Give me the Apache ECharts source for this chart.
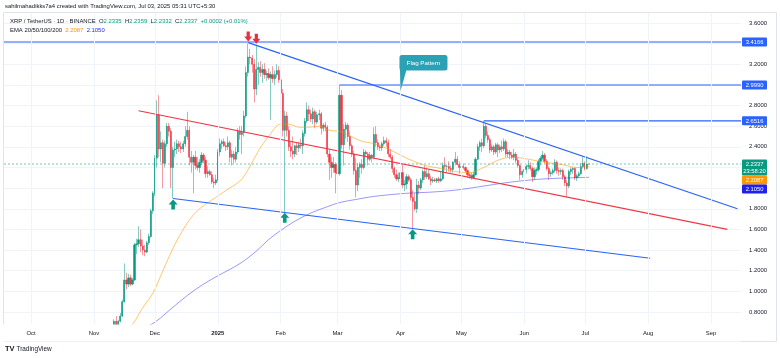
<!DOCTYPE html>
<html>
<head>
<meta charset="utf-8">
<script src="https://cdn.jsdelivr.net/npm/echarts@6/dist/echarts.min.js"></script>
<style>
html,body{margin:0;padding:0;background:#ffffff;}
#chart{width:780px;height:358px;}
</style>
</head>
<body>
<div id="chart"></div>
<script>
// ---------- DATA (daily candles: [open, high, low, close]) ----------
const nov2024 = [ // from Nov 9
  [0.56,0.60,0.55,0.59],[0.59,0.64,0.58,0.62],[0.62,0.73,0.60,0.71],[0.71,0.76,0.63,0.66],
  [0.66,0.72,0.64,0.71],[0.71,0.79,0.70,0.76],[0.76,0.92,0.75,0.90],[0.90,1.27,0.89,1.11],
  [1.11,1.18,1.02,1.07],[1.07,1.17,1.04,1.13],[1.13,1.16,1.05,1.07],[1.07,1.13,1.06,1.11],
  [1.11,1.47,1.10,1.45],[1.45,1.51,1.36,1.46],[1.46,1.63,1.43,1.50],[1.50,1.60,1.38,1.44],
  [1.44,1.50,1.35,1.40],[1.40,1.45,1.34,1.38],[1.38,1.49,1.37,1.47],[1.47,1.56,1.45,1.53],
  [1.53,1.80,1.52,1.78],[1.78,1.97,1.75,1.95]
];
const dec2024 = [
  [1.95,2.32,1.92,2.29],[2.29,2.85,2.20,2.71],[2.71,2.90,2.30,2.38],[2.38,2.55,2.25,2.44],
  [2.44,2.47,2.00,2.24],[2.24,2.46,2.20,2.43],[2.43,2.63,2.40,2.60],[2.60,2.63,2.50,2.55],
  [2.55,2.58,2.00,2.20],[2.20,2.40,1.90,2.37],[2.37,2.45,2.30,2.38],[2.38,2.47,2.33,2.43],
  [2.43,2.46,2.35,2.40],[2.40,2.45,2.34,2.38],[2.38,2.46,2.35,2.43],[2.43,2.60,2.40,2.50],
  [2.50,2.74,2.47,2.56],[2.56,2.60,2.22,2.30],[2.30,2.36,2.15,2.25],[2.25,2.32,1.95,2.30],
  [2.30,2.36,2.18,2.22],[2.22,2.30,2.17,2.20],[2.20,2.28,2.15,2.25],[2.25,2.35,2.22,2.32],
  [2.32,2.34,2.24,2.27],[2.27,2.30,2.10,2.14],[2.14,2.21,2.10,2.16],[2.16,2.18,2.12,2.13],
  [2.13,2.16,2.04,2.06],[2.06,2.10,2.00,2.05],[2.05,2.13,2.03,2.08]
];
const jan2025 = [
  [2.08,2.38,2.06,2.35],[2.35,2.48,2.31,2.43],[2.43,2.47,2.38,2.45],[2.45,2.48,2.40,2.41],
  [2.41,2.44,2.36,2.40],[2.40,2.50,2.37,2.44],[2.44,2.46,2.25,2.30],[2.30,2.37,2.22,2.33],
  [2.33,2.36,2.24,2.28],[2.28,2.40,2.25,2.35],[2.35,2.58,2.33,2.55],[2.55,2.60,2.47,2.52],
  [2.52,2.60,2.33,2.54],[2.54,2.75,2.50,2.70],[2.70,3.18,2.68,3.12],[3.12,3.40,3.08,3.27],
  [3.27,3.35,3.20,3.26],[3.26,3.29,3.12,3.20],[3.20,3.25,2.83,2.96],[2.96,3.39,2.90,3.15],
  [3.15,3.22,3.00,3.17],[3.17,3.23,3.08,3.12],[3.12,3.20,3.02,3.15],[3.15,3.21,3.06,3.10],
  [3.10,3.14,3.04,3.11],[3.11,3.16,3.05,3.07],[3.07,3.13,2.66,3.10],[3.10,3.18,3.02,3.06],
  [3.06,3.14,3.00,3.10],[3.10,3.20,3.07,3.14],[3.14,3.18,3.02,3.05]
];
const feb2025 = [
  [3.05,3.08,2.90,2.92],[2.92,2.96,2.50,2.56],[2.56,2.75,1.77,2.70],[2.70,2.74,2.50,2.56],
  [2.56,2.60,2.36,2.40],[2.40,2.45,2.30,2.36],[2.36,2.50,2.28,2.33],[2.33,2.42,2.30,2.41],
  [2.41,2.44,2.32,2.39],[2.39,2.45,2.35,2.42],[2.42,2.48,2.38,2.41],[2.41,2.56,2.33,2.53],
  [2.53,2.68,2.50,2.65],[2.65,2.83,2.63,2.76],[2.76,2.80,2.65,2.72],[2.72,2.76,2.64,2.67],
  [2.67,2.78,2.62,2.74],[2.74,2.76,2.58,2.64],[2.64,2.74,2.62,2.71],[2.71,2.76,2.66,2.72],
  [2.72,2.74,2.52,2.58],[2.58,2.63,2.55,2.61],[2.61,2.64,2.55,2.59],[2.59,2.61,2.30,2.33],
  [2.33,2.37,2.08,2.25],[2.25,2.30,2.10,2.20],[2.20,2.30,2.15,2.23],[2.23,2.25,1.95,2.15]
];
const mar2025 = [
  [2.15,2.20,2.10,2.14],[2.14,3.00,2.12,2.90],[2.90,2.95,2.38,2.42],[2.42,2.62,2.22,2.57],
  [2.57,2.64,2.48,2.61],[2.61,2.63,2.45,2.50],[2.50,2.55,2.37,2.41],[2.41,2.43,2.30,2.33],
  [2.33,2.36,2.13,2.17],[2.17,2.29,1.91,2.03],[2.03,2.24,1.97,2.20],[2.20,2.25,2.10,2.23],
  [2.23,2.28,2.14,2.20],[2.20,2.38,2.18,2.35],[2.35,2.37,2.30,2.33],[2.33,2.35,2.22,2.28],
  [2.28,2.35,2.26,2.32],[2.32,2.33,2.25,2.30],[2.30,2.59,2.28,2.52],[2.52,2.60,2.40,2.44],
  [2.44,2.47,2.37,2.40],[2.40,2.42,2.36,2.39],[2.39,2.45,2.36,2.43],[2.43,2.50,2.41,2.46],
  [2.46,2.49,2.40,2.44],[2.44,2.47,2.30,2.33],[2.33,2.38,2.28,2.30],[2.30,2.32,2.15,2.19],
  [2.19,2.21,2.10,2.13],[2.13,2.18,2.07,2.09],[2.09,2.15,2.06,2.10]
];
const apr2025 = [
  [2.10,2.18,2.08,2.15],[2.15,2.23,2.00,2.03],[2.03,2.08,1.97,2.04],[2.04,2.14,1.99,2.11],
  [2.11,2.13,2.06,2.08],[2.08,2.10,1.88,1.91],[1.91,1.98,1.61,1.87],[1.87,1.95,1.78,1.80],
  [1.80,2.09,1.76,2.03],[2.03,2.07,1.94,2.00],[2.00,2.10,1.98,2.08],[2.08,2.18,2.05,2.16],
  [2.16,2.22,2.08,2.11],[2.11,2.20,2.09,2.14],[2.14,2.18,2.08,2.09],[2.09,2.12,2.03,2.07],
  [2.07,2.11,2.05,2.08],[2.08,2.10,2.06,2.07],[2.07,2.10,2.05,2.09],[2.09,2.11,2.05,2.07],
  [2.07,2.16,2.06,2.09],[2.09,2.25,2.08,2.22],[2.22,2.30,2.18,2.21],[2.21,2.23,2.15,2.21],
  [2.21,2.26,2.16,2.19],[2.19,2.22,2.15,2.18],[2.18,2.26,2.15,2.25],[2.25,2.35,2.22,2.28],
  [2.28,2.31,2.22,2.23],[2.23,2.26,2.14,2.20]
];
const may2025 = [
  [2.20,2.24,2.18,2.21],[2.21,2.24,2.18,2.20],[2.20,2.21,2.15,2.17],[2.17,2.18,2.10,2.13],
  [2.13,2.15,2.09,2.12],[2.12,2.15,2.08,2.10],[2.10,2.16,2.09,2.13],[2.13,2.30,2.12,2.28],
  [2.28,2.43,2.27,2.40],[2.40,2.46,2.36,2.44],[2.44,2.48,2.35,2.41],[2.41,2.65,2.39,2.60],
  [2.60,2.63,2.48,2.51],[2.51,2.55,2.44,2.47],[2.47,2.49,2.34,2.37],[2.37,2.43,2.35,2.40],
  [2.40,2.42,2.32,2.35],[2.35,2.44,2.33,2.42],[2.42,2.44,2.30,2.37],[2.37,2.42,2.34,2.40],
  [2.40,2.46,2.35,2.38],[2.38,2.48,2.36,2.45],[2.45,2.47,2.30,2.33],[2.33,2.38,2.30,2.35],
  [2.35,2.37,2.28,2.32],[2.32,2.35,2.28,2.30],[2.30,2.38,2.27,2.33],[2.33,2.35,2.24,2.27],
  [2.27,2.30,2.20,2.22],[2.22,2.23,2.08,2.13],[2.13,2.17,2.10,2.16]
];
const jun2025 = [
  [2.16,2.20,2.12,2.18],[2.18,2.23,2.14,2.21],[2.21,2.27,2.18,2.22],[2.22,2.25,2.17,2.19],
  [2.19,2.21,2.06,2.11],[2.11,2.20,2.08,2.17],[2.17,2.20,2.13,2.18],[2.18,2.28,2.16,2.26],
  [2.26,2.31,2.22,2.29],[2.29,2.36,2.27,2.32],[2.32,2.34,2.24,2.26],[2.26,2.28,2.17,2.19],
  [2.19,2.21,2.08,2.14],[2.14,2.17,2.11,2.15],[2.15,2.19,2.13,2.17],[2.17,2.28,2.15,2.25],
  [2.25,2.27,2.14,2.17],[2.17,2.20,2.12,2.16],[2.16,2.19,2.13,2.17],[2.17,2.19,2.08,2.11],
  [2.11,2.13,2.02,2.05],[2.05,2.08,1.91,2.02],[2.02,2.18,2.00,2.16],[2.16,2.20,2.13,2.18],
  [2.18,2.20,2.14,2.19],[2.19,2.20,2.08,2.10],[2.10,2.14,2.07,2.12],[2.12,2.16,2.10,2.14],
  [2.14,2.24,2.13,2.21],[2.21,2.30,2.19,2.24]
];
const jul2025 = [
  [2.24,2.26,2.17,2.19],[2.19,2.31,2.18,2.2335],[2.2335,2.2359,2.2332,2.2337]
];

// EMA lines: [date, value]
const emaOrange = [
  ['2024-11-15',0.60],['2024-11-20',0.68],['2024-11-25',0.84],['2024-11-30',0.98],
  ['2024-12-05',1.20],['2024-12-10',1.42],['2024-12-15',1.60],['2024-12-20',1.74],
  ['2024-12-25',1.83],['2024-12-31',1.91],['2025-01-06',1.99],['2025-01-12',2.07],
  ['2025-01-16',2.18],['2025-01-21',2.36],['2025-01-26',2.50],['2025-02-01',2.62],
  ['2025-02-05',2.62],['2025-02-10',2.59],['2025-02-15',2.59],['2025-02-20',2.60],
  ['2025-02-25',2.56],['2025-03-02',2.55],['2025-03-06',2.52],['2025-03-12',2.46],
  ['2025-03-19',2.43],['2025-03-27',2.37],['2025-04-04',2.29],['2025-04-13',2.22],
  ['2025-04-21',2.19],['2025-04-28',2.16],['2025-05-05',2.15],['2025-05-12',2.20],
  ['2025-05-19',2.27],['2025-05-26',2.30],['2025-06-03',2.28],['2025-06-11',2.25],
  ['2025-06-19',2.23],['2025-06-27',2.20],['2025-07-03',2.2087]
];
const emaBlue = [
  ['2024-11-25',0.64],['2024-12-01',0.70],['2024-12-09',0.83],['2024-12-17',0.96],
  ['2024-12-25',1.07],['2025-01-01',1.15],['2025-01-12',1.27],['2025-01-20',1.39],
  ['2025-01-26',1.50],['2025-02-01',1.59],['2025-02-08',1.68],['2025-02-16',1.76],
  ['2025-02-24',1.82],['2025-03-02',1.86],['2025-03-10',1.89],['2025-03-19',1.92],
  ['2025-04-04',1.95],['2025-04-15',1.96],['2025-04-28',1.98],['2025-05-12',2.02],
  ['2025-05-26',2.06],['2025-06-11',2.09],['2025-06-25',2.10],['2025-07-03',2.105]
];

// drawn trend lines: [[date, value], [date, value]]
const upperBlueLine = [['2025-01-16',3.41],['2025-09-14',1.80]];
const lowerBlueLine = [['2024-12-10',1.90],['2025-08-02',1.32]];
const redLine       = [['2024-11-23',2.75],['2025-09-09',1.60]];
// horizontal levels: [start date, value]
const levels = [['2024-09-01',3.4166],['2025-03-02',2.9990],['2025-05-12',2.6516]];
const lastPrice = 2.2337, ema1Last = 2.2087, ema2Last = 2.1050;
const arrowsDown = [['2025-01-16',3.41],['2025-01-20',3.39]];
const arrowsUp   = [['2024-12-10',1.90],['2025-02-03',1.77],['2025-04-07',1.61]];
const flagAnchor = ['2025-04-01',2.94];

const monthTicks = ['2024-10-01','2024-11-01','2024-12-01','2025-01-01','2025-02-01','2025-03-01',
                    '2025-04-01','2025-05-01','2025-06-01','2025-07-01','2025-08-01','2025-09-01'];
const monthNames = ['Oct','Nov','Dec','2025','Feb','Mar','Apr','May','Jun','Jul','Aug','Sep'];
const priceTicks = [0.8,1.0,1.2,1.4,1.6,1.8,2.0,2.2,2.4,2.6,2.8,3.0,3.2,3.4,3.6];

// ---------- BUILD ----------
const UP = '#089981', DOWN = '#f23645', BLUE = '#2962ff';
const FONT = '"Liberation Sans", Arial, sans-serif';
const FS = 5.9;
function dayOf(s) {
  const p = s.split('-').map(Number);
  return (Date.UTC(p[0], p[1] - 1, p[2]) - Date.UTC(2025, 0, 1)) / 86400000;
}
const X_MIN = -105.3, X_MAX = 257.75;   // visible time window (days from 2025-01-01)
const Y_MIN = 0.6833, Y_MAX = 3.6969;   // visible price window

const blocks = [[2024,11,9,nov2024],[2024,12,1,dec2024],[2025,1,1,jan2025],[2025,2,1,feb2025],
  [2025,3,1,mar2025],[2025,4,1,apr2025],[2025,5,1,may2025],[2025,6,1,jun2025],[2025,7,1,jul2025]];
const candleData = [], bodyData = [];
blocks.forEach(([y, m, start, rows]) => {
  rows.forEach((r, i) => {
    const d = (Date.UTC(y, m - 1, start + i) - Date.UTC(2025, 0, 1)) / 86400000;
    const [o, h, l, c] = r;
    candleData.push([d, o, c, l, h]);
    bodyData.push([d, o, c, Math.min(o, c), Math.max(o, c)]);
  });
});
const tickDays = monthTicks.map(dayOf);
const pts = arr => arr.map(([s, v]) => [dayOf(s), v]);

const DOWN_PATH = 'path://M3,0L7,0L7,5.5L10,5.5L5,11L0,5.5L3,5.5Z';
const UP_PATH = 'path://M5,0L10,5.5L7,5.5L7,11L3,11L3,5.5L0,5.5Z';

const series = [
  { type: 'candlestick', data: candleData, encode: {x: 0, y: [1,2,3,4]}, barWidth: 1,
    silent: true, animation: false,
    itemStyle: {color: 'transparent', color0: 'transparent',
      borderColor: 'rgba(8,153,129,0.5)', borderColor0: 'rgba(242,54,69,0.5)', borderWidth: 1} },
  { type: 'candlestick', data: bodyData, encode: {x: 0, y: [1,2,3,4]}, barWidth: 1.7,
    silent: true, animation: false,
    itemStyle: {color: UP, color0: DOWN, borderColor: UP, borderColor0: DOWN, borderWidth: 0.5},
    markPoint: { silent: true, label: {show: false}, animation: false,
      data: arrowsDown.map(([s, v]) => ({coord: [dayOf(s), v], symbol: DOWN_PATH, symbolSize: [8, 10],
              symbolOffset: [0, -6], itemStyle: {color: '#e5303f'}}))
        .concat(arrowsUp.map(([s, v]) => ({coord: [dayOf(s), v], symbol: UP_PATH, symbolSize: [9, 10],
              symbolOffset: [0, 6], itemStyle: {color: UP}}))) } },
  { type: 'line', data: pts(emaOrange), smooth: 0.35, symbol: 'none', silent: true, animation: false,
    lineStyle: {color: 'rgba(255,152,0,0.55)', width: 1} },
  { type: 'line', data: pts(emaBlue), smooth: 0.35, symbol: 'none', silent: true, animation: false,
    lineStyle: {color: 'rgba(30,30,240,0.45)', width: 1} },
  { type: 'line', data: [[X_MIN, lastPrice], [X_MAX, lastPrice]], symbol: 'none', silent: true, animation: false,
    lineStyle: {color: 'rgba(8,153,129,0.55)', width: 1, type: [2, 2]} },
  { type: 'line', data: pts(upperBlueLine), symbol: 'none', silent: true, animation: false,
    lineStyle: {color: BLUE, width: 1.1} },
  { type: 'line', data: pts(lowerBlueLine), symbol: 'none', silent: true, animation: false,
    lineStyle: {color: BLUE, width: 1.1} },
  { type: 'line', data: pts(redLine), symbol: 'none', silent: true, animation: false,
    lineStyle: {color: DOWN, width: 1.1} }
].concat(levels.map(([s, v]) => ({
  type: 'line', data: [[Math.max(dayOf(s), X_MIN), v], [X_MAX, v]], symbol: 'none', silent: true, animation: false,
  lineStyle: {color: BLUE, width: 1.1} })));

const option = {
  animation: false,
  backgroundColor: '#ffffff',
  textStyle: {fontFamily: FONT},
  grid: {left: 4, right: 39, top: 13, bottom: 34, containLabel: false},
  xAxis: {
    type: 'value', min: X_MIN, max: X_MAX, z: 6,
    axisLine: {show: false},
    axisTick: {show: false, customValues: tickDays},
    axisLabel: {customValues: tickDays, fontSize: FS, color: '#131722', margin: 6, fontFamily: FONT,
      formatter: v => {
        const i = tickDays.findIndex(t => Math.abs(t - v) < 0.01);
        if (i < 0) return '';
        return monthNames[i] === '2025' ? '{b|2025}' : monthNames[i];
      },
      rich: {b: {fontWeight: 'bold', fontSize: FS, color: '#131722', fontFamily: FONT}}},
    splitLine: {show: true, lineStyle: {color: '#f0f3fa', width: 1}}
  },
  yAxis: {
    type: 'value', position: 'right', min: Y_MIN, max: Y_MAX, scale: true,
    axisLine: {show: false},
    axisTick: {show: false, customValues: priceTicks},
    axisLabel: {customValues: priceTicks, fontSize: FS, color: '#131722', margin: 8, fontFamily: FONT,
      formatter: v => v.toFixed(4)},
    splitLine: {show: true, lineStyle: {color: '#f0f3fa', width: 1}}
  },
  series: series
};

const chart = echarts.init(document.getElementById('chart'), null, {renderer: 'canvas'});
chart.setOption(option);

// ---------- overlays (positions derived from data via the axes) ----------
const P = (d, v) => chart.convertToPixel({gridIndex: 0}, [d, v]);
const plotRight = P(X_MAX, Y_MIN)[0];
const plotBottom = P(X_MAX, Y_MIN)[1];
const boxX = plotRight + 1, boxW = 25;
const txt = (x, y, text, extra) => Object.assign({type: 'text', z: 20, silent: true, x: x, y: y,
  style: Object.assign({text: text, fill: '#131722', fontSize: FS, fontFamily: FONT,
    align: 'left', verticalAlign: 'middle', textAlign: 'left', textVerticalAlign: 'middle'}, extra || {})});
function box(yCenter, h, color, lines) {
  const els = [{type: 'rect', z: 20, silent: true, shape: {x: boxX, y: yCenter - h / 2, width: boxW, height: h, r: 1},
    style: {fill: color}}];
  lines.forEach((t, i) => {
    els.push({type: 'text', z: 21, silent: true, x: boxX + boxW / 2, y: yCenter - h / 2 + 4.6 + i * 7.2,
      style: {text: t, fill: '#ffffff', fontSize: 5.8, fontFamily: FONT, align: 'center', verticalAlign: 'middle',
        textAlign: 'center', textVerticalAlign: 'middle'}});
  });
  return els;
}
const g = [];
g.push({type: 'rect', z: 3, silent: true, shape: {x: 0, y: plotBottom + 0.5, width: plotRight, height: 17},
  style: {fill: '#ffffff'}});
g.push({type: 'rect', z: 1, silent: true, shape: {x: 3.5, y: 12.5, width: 773, height: 329},
  style: {fill: 'none', stroke: '#e0e3eb', lineWidth: 1}});
levels.forEach(([s, v]) => { g.push(...box(P(X_MAX, v)[1], 9, BLUE, [v.toFixed(4)])); });
const yLast = P(X_MAX, lastPrice)[1];
const gTop = yLast - 4.6, gH = 16;
g.push(...box(gTop + gH / 2, gH, UP, [lastPrice.toFixed(4), '23:58:20']));
g.push(...box(gTop + gH + 4.5, 9, '#ff9800', [ema1Last.toFixed(4)]));
g.push(...box(gTop + gH + 13.5, 9, '#1f1ff0', [ema2Last.toFixed(4)]));

// header
g.push(txt(5, 6.5, 'sahilmahadikks7a4 created with TradingView.com, Jul 03, 2025 05:31 UTC+5:30'));
g.push(txt(10, 21.5,
  '{d|XRP / TetherUS · 1D · BINANCE}  {d|O}{g|2.2335}  {d|H}{g|2.2359}  {d|L}{g|2.2332}  {d|C}{g|2.2337}  {g|+0.0002 (+0.01%)}',
  {rich: {d: {fill: '#131722', fontSize: FS, fontFamily: FONT}, g: {fill: UP, fontSize: FS, fontFamily: FONT}}}));
g.push(txt(10, 30,
  '{d|EMA 20/50/100/200}  {o|2.2087}  {b|2.1050}',
  {rich: {d: {fill: '#131722', fontSize: FS, fontFamily: FONT}, o: {fill: '#ff9800', fontSize: FS, fontFamily: FONT},
          b: {fill: '#1f1ff0', fontSize: FS, fontFamily: FONT}}}));
// footer logo
g.push(txt(5, 349, 'TV', {fontWeight: 'bold', fontSize: 7.5}));
g.push(txt(16.5, 349, 'TradingView', {fontSize: 6.4}));

// Flag Pattern callout
const fa = P(dayOf(flagAnchor[0]), flagAnchor[1]);
g.push({type: 'group', z: 20, x: fa[0], y: fa[1], silent: true, children: [
  {type: 'polygon', z: 20, shape: {points: [[-0.5, -21], [6, -21], [0, 0]]}, style: {fill: '#2aa2b3'}},
  {type: 'rect', z: 20, shape: {x: -1, y: -36, width: 48, height: 15.5, r: 2.5}, style: {fill: '#2aa2b3'}},
  {type: 'text', z: 21, x: 23, y: -28.2, style: {text: 'Flag Pattern', fill: '#ffffff', fontSize: 6.2, fontFamily: FONT,
    align: 'center', verticalAlign: 'middle', textAlign: 'center', textVerticalAlign: 'middle'}}
]});
chart.setOption({graphic: {elements: g}});
</script>
</body>
</html>
